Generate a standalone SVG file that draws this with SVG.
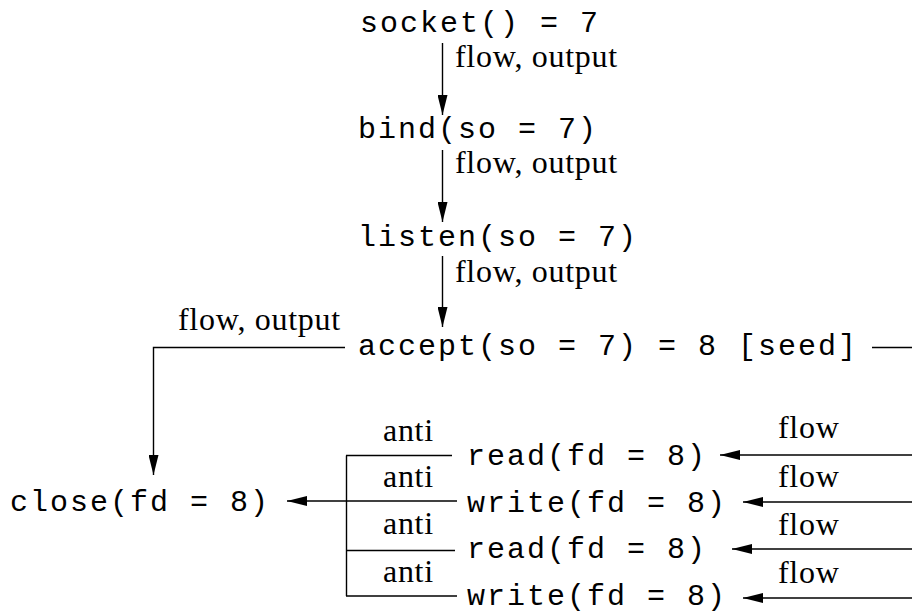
<svg xmlns="http://www.w3.org/2000/svg" width="912" height="614" viewBox="0 0 912 614">
<style>
.m{font-family:"Liberation Mono",monospace;font-size:30px;letter-spacing:2px;fill:#000}
.s{font-family:"Liberation Serif",serif;font-size:32px;letter-spacing:0.7px;fill:#000}
.c line,.c polyline{stroke:#000;stroke-width:1.4;fill:none}
.a{marker-end:url(#ah)}
</style>
<defs>
<marker id="ah" markerUnits="userSpaceOnUse" markerWidth="20" markerHeight="10" refX="20" refY="5" orient="auto">
<path d="M0,0 L20,5 L0,10 z" fill="#000"/>
</marker>
</defs>
<g id="n-socket"><text class="m" x="360" y="32">socket() = 7</text></g>
<g id="n-bind"><text class="m" x="358" y="138">bind(so = 7)</text></g>
<g id="n-listen"><text class="m" x="358" y="246">listen(so = 7)</text></g>
<g id="n-accept"><text class="m" x="358" y="355">accept(so = 7) = 8 [seed]</text></g>
<g id="n-close"><text class="m" x="10" y="511">close(fd = 8)</text></g>
<g id="n-read1"><text class="m" x="467" y="465">read(fd = 8)</text></g>
<g id="n-write1"><text class="m" x="467" y="512">write(fd = 8)</text></g>
<g id="n-read2"><text class="m" x="467" y="558">read(fd = 8)</text></g>
<g id="n-write2"><text class="m" x="467" y="605">write(fd = 8)</text></g>
<g id="connectors" class="c">
<line class="a" x1="442.5" y1="43" x2="442.5" y2="115"/>
<line class="a" x1="442.5" y1="150" x2="442.5" y2="222"/>
<line class="a" x1="442.5" y1="256" x2="442.5" y2="327"/>
<polyline class="a" points="345,347.5 153.5,347.5 153.5,475"/>
<line x1="872" y1="347.5" x2="912" y2="347.5"/>
<line x1="346.5" y1="455.5" x2="346.5" y2="596"/>
<line x1="346" y1="455.5" x2="452" y2="455.5"/>
<line class="a" x1="457" y1="501" x2="287" y2="501"/>
<line x1="346" y1="550.5" x2="455" y2="550.5"/>
<line x1="346" y1="596" x2="457" y2="596"/>
<line class="a" x1="912" y1="455" x2="720" y2="455"/>
<line class="a" x1="912" y1="502" x2="743" y2="502"/>
<line class="a" x1="912" y1="549" x2="732" y2="549"/>
<line class="a" x1="912" y1="598" x2="743" y2="598"/>
</g>
<g id="labels">
<text class="s" x="455" y="67">flow, output</text>
<text class="s" x="455" y="173">flow, output</text>
<text class="s" x="455" y="282">flow, output</text>
<text class="s" x="178" y="330">flow, output</text>
<text class="s" x="383" y="441">anti</text>
<text class="s" x="383" y="487">anti</text>
<text class="s" x="383" y="534">anti</text>
<text class="s" x="383" y="582">anti</text>
<text class="s" x="778" y="438">flow</text>
<text class="s" x="778" y="487">flow</text>
<text class="s" x="778" y="535">flow</text>
<text class="s" x="778" y="583">flow</text>
</g>
</svg>
